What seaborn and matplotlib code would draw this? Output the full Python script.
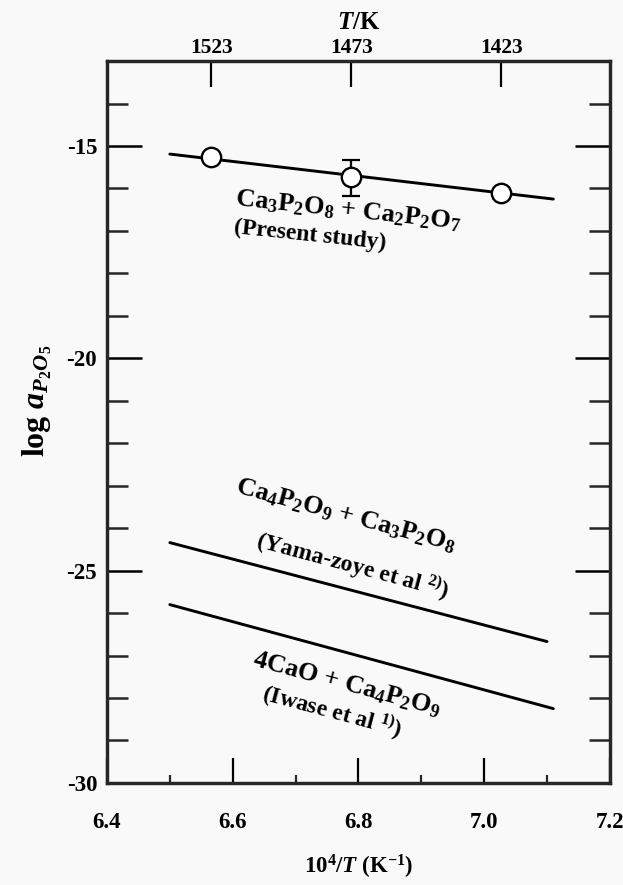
import numpy as np
import pandas as pd
import matplotlib
matplotlib.use("Agg")
import matplotlib.pyplot as plt
import seaborn as sns
from matplotlib.ticker import MultipleLocator, NullLocator

# ---- data ----
temps_K = [1523, 1473, 1423]
present_logaP2O5 = [-15.26, -15.73, -16.10]
present_err_low = [0.0, 0.45, 0.0]
present_err_high = [0.0, 0.40, 0.0]

present_fit_x = [6.50, 7.11]
present_fit_y = [-15.19, -16.25]

yama_x = [6.50, 7.10]
yama_y = [-24.34, -26.67]

iwase_x = [6.50, 7.11]
iwase_y = [-25.80, -28.25]

top_tick_T = [1523, 1473, 1423]

# ---- style ----
sns.set_theme(style="ticks")
plt.rcParams['font.family'] = ['Liberation Serif', 'DejaVu Serif']
plt.rcParams['font.weight'] = 'bold'
plt.rcParams['axes.labelweight'] = 'bold'
plt.rcParams['mathtext.fontset'] = 'custom'
plt.rcParams['mathtext.rm'] = 'Liberation Serif:bold'
plt.rcParams['mathtext.it'] = 'Liberation Serif:bold:italic'
plt.rcParams['mathtext.bf'] = 'Liberation Serif:bold'
plt.rcParams['axes.unicode_minus'] = False

bg = '#f9f9f9'
fig = plt.figure(figsize=(6.23, 8.85), dpi=100, facecolor=bg)
ax = fig.add_axes([0.1717, 0.1153, 0.979 - 0.1717, 0.931 - 0.1153])
ax.set_facecolor(bg)

lw = 2.1
fit_df = pd.DataFrame({'x': present_fit_x, 'y': present_fit_y})
yama_df = pd.DataFrame({'x': yama_x, 'y': yama_y})
iwase_df = pd.DataFrame({'x': iwase_x, 'y': iwase_y})
sns.lineplot(data=fit_df, x='x', y='y', color='black', lw=lw, ax=ax)
sns.lineplot(data=yama_df, x='x', y='y', color='black', lw=lw, ax=ax)
sns.lineplot(data=iwase_df, x='x', y='y', color='black', lw=lw, ax=ax)

pts_x = [1e4 / t for t in temps_K]
ax.errorbar(pts_x, present_logaP2O5, yerr=[present_err_low, present_err_high],
            fmt='none', ecolor='black', elinewidth=1.6, capsize=6.5, capthick=1.6, zorder=3)
pts_df = pd.DataFrame({'x': pts_x, 'y': present_logaP2O5})
sns.scatterplot(data=pts_df, x='x', y='y', marker='o', s=195, facecolor='white',
                edgecolor='black', linewidth=1.7, zorder=4, ax=ax)

ax.set_xlim(6.4, 7.2)
ax.set_ylim(-30, -13)
ax.set_xticks([6.4, 6.6, 6.8, 7.0, 7.2])
ax.set_xticklabels(['6.4', '6.6', '6.8', '7.0', '7.2'])
ax.xaxis.set_minor_locator(MultipleLocator(0.1))
ax.set_yticks([-30, -25, -20, -15])
ax.set_yticklabels(['-30', '-25', '-20', '-15'])
ax.yaxis.set_minor_locator(MultipleLocator(1))

ax.tick_params(axis='x', which='major', direction='in', length=18, width=1.6,
               pad=21, labelsize=16.5, colors='black', top=False)
ax.tick_params(axis='x', which='minor', direction='in', length=6, width=1.6, top=False)
ax.tick_params(axis='y', which='major', direction='in', length=25, width=1.8,
               pad=7, labelsize=16.5, colors='black', right=True)
ax.tick_params(axis='y', which='minor', direction='in', length=15, width=1.8, right=True)

for s in ax.spines.values():
    s.set_linewidth(2.3)
    s.set_color('black')
    s.set_visible(True)

ax.set_xlabel(r'10$^{4}$/$T$ (K$^{-1}$)', fontsize=16.5, fontweight='bold', labelpad=14, color='black')
ax.set_ylabel(r'log $a_{P_2O_5}$', fontsize=23, fontweight='bold', color='black')
ax.yaxis.set_label_coords(-0.105, 0.53)

# top axis
ax2 = ax.twiny()
ax2.set_xlim(ax.get_xlim())
ax2.set_xticks([1e4 / t for t in top_tick_T])
ax2.set_xticklabels([str(t) for t in top_tick_T])
ax2.xaxis.set_minor_locator(NullLocator())
ax2.tick_params(axis='x', direction='in', length=19, width=1.6, pad=2.5, labelsize=15.5, colors='black')
ax2.set_xlabel(r'$T$/K', fontsize=18, fontweight='bold', labelpad=6, color='black')
for s in ax2.spines.values():
    s.set_linewidth(2.3)

# annotations
def txt(x, y, s, rot, size):
    ax.text(x, y, s, rotation=rot, rotation_mode='anchor', ha='center', va='center',
            fontsize=size, fontweight='bold', color='black', transform=ax.transData)

txt(6.783, -16.53, r'Ca$_3$P$_2$O$_8$ + Ca$_2$P$_2$O$_7$', -6, 19)
txt(6.723, -17.10, '(Present study)', -6, 17)
txt(6.780, -23.70, r'Ca$_4$P$_2$O$_9$ + Ca$_3$P$_2$O$_8$', -15, 19)
txt(6.790, -24.88, r'(Yama-zoye et al $^{2)}$)', -15, 17)
txt(6.782, -27.67, r'4CaO + Ca$_4$P$_2$O$_9$', -15, 19)
txt(6.758, -28.33, r'(Iwase et al $^{1)}$)', -15, 17)

fig.savefig('out.png', dpi=100, facecolor=bg)
